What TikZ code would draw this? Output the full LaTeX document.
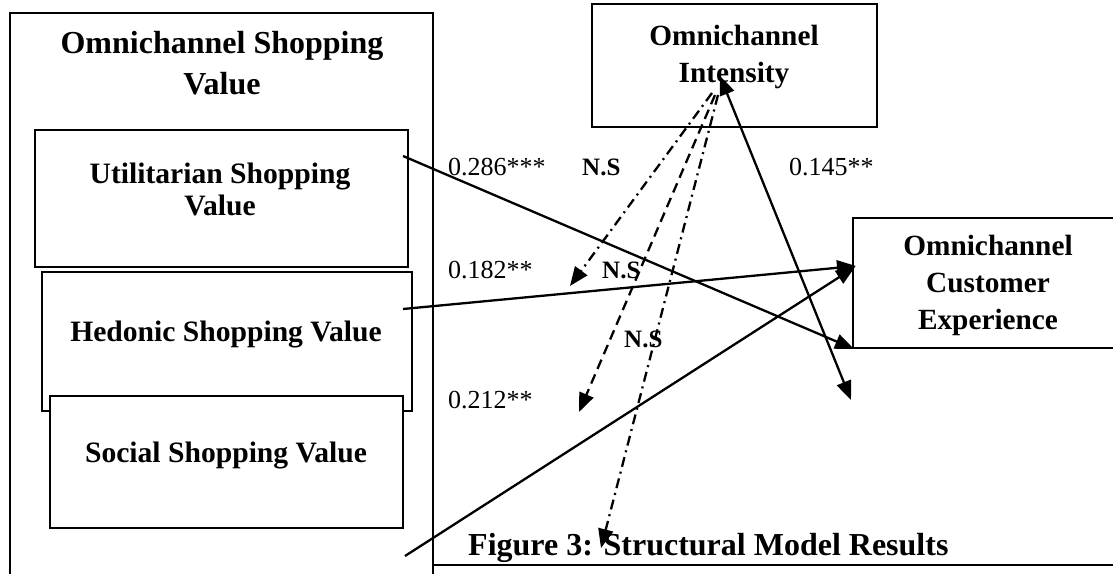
\documentclass[tikz,border=0pt]{standalone}
\usepackage{fontspec}
\setmainfont{Liberation Serif}
\usetikzlibrary{arrows.meta}
\begin{document}
\begin{tikzpicture}[x=1pt,y=-1pt,
  box/.style={draw,line width=2.4pt,fill=white,inner sep=0pt,outer sep=0pt,anchor=north west},
  hd/.style={font=\fontsize{29.6}{32}\selectfont\bfseries,align=center,inner sep=0pt,anchor=base},
  num/.style={font=\fontsize{26}{30}\selectfont,inner sep=0pt,anchor=base west},
  ns/.style={font=\fontsize{25}{30}\selectfont\bfseries,inner sep=0pt,anchor=base west},
  tipend/.style={-{Triangle[length=19pt,width=15pt]}},
  conn/.style={line width=2.3pt,tipend},
  dd/.style={line width=2.3pt,tipend,dash pattern=on 10pt off 5pt on 2pt off 5pt},
  ds/.style={line width=2.3pt,tipend,dash pattern=on 10pt off 6pt}]
\useasboundingbox (0,0) rectangle (1113,573);
\clip (0,0) rectangle (1113,573);
% boxes
\node[box,minimum width=423pt,minimum height=600pt] (outer) at (10,13) {};
\node[box,minimum width=373pt,minimum height=137pt] (util) at (35,130) {};
\node[box,minimum width=370pt,minimum height=139pt] (hed) at (42,272) {};
\node[box,minimum width=353pt,minimum height=132pt] (soc) at (50,396) {};
\node[box,minimum width=285pt,minimum height=123pt] (int) at (592,4) {};
\node[box,minimum width=300pt,minimum height=130pt] (ce) at (853,218) {};
\coordinate (bl) at (433,565);
\coordinate (br) at (1113,565);
\draw[line width=2.4pt] (bl) -- (br);
% texts
\node[hd,font=\fontsize{32}{41}\selectfont\bfseries] (tOSV) at (222,94) {Omnichannel Shopping\\Value};
\node[hd] (tU) at (220,215) {Utilitarian Shopping\\Value};
\node[hd] (tH) at (226,341) {Hedonic Shopping Value};
\node[hd] (tS) at (226,462) {Social Shopping Value};
\node[hd,font=\fontsize{29.3}{37}\selectfont\bfseries] (tI) at (734,82) {Omnichannel\\Intensity};
\node[hd,font=\fontsize{29.3}{37}\selectfont\bfseries] (tC) at (988,329) {Omnichannel\\Customer\\Experience};
\node[font=\fontsize{32}{36}\selectfont\bfseries,inner sep=0pt,anchor=base west] (cap) at (468,555) {Figure 3: Structural Model Results};
\node[num] (n1) at (448,175) {0.286***};
\node[ns] (ns1) at (582,175) {N.S};
\node[num] (n2) at (789,175) {0.145**};
\node[num] (n3) at (448,278) {0.182**};
\node[ns] (ns2) at (602,278) {N.S};
\node[ns] (ns3) at (624,347) {N.S};
\node[num] (n4) at (448,408) {0.212**};
% arrow end points
\coordinate (u1) at (403,156);
\coordinate (h1) at (403,309);
\coordinate (s1) at (405,556);
\coordinate (ce1) at (854,349);
\coordinate (ce2) at (856,266);
\coordinate (ce3) at (855,267);
\coordinate (i0) at (720,76);
\coordinate (i1) at (851,400);
\coordinate (d1a) at (712,93);
\coordinate (d1b) at (570,286);
\coordinate (d2a) at (715,95);
\coordinate (d2b) at (579,412);
\coordinate (d3a) at (718,95);
\coordinate (d3b) at (601,548);
% connectors
\draw[conn] (u1) -- (ce1);
\draw[conn] (h1) -- (ce2);
\draw[conn] (s1) -- (ce3);
\draw[line width=2.3pt,{Triangle[length=19pt,width=15pt]}-{Triangle[length=19pt,width=15pt]}] (i0) -- (i1);
\draw[dd] (d1a) -- (d1b);
\draw[ds] (d2a) -- (d2b);
\draw[dd] (d3a) -- (d3b);
\end{tikzpicture}
\end{document}
